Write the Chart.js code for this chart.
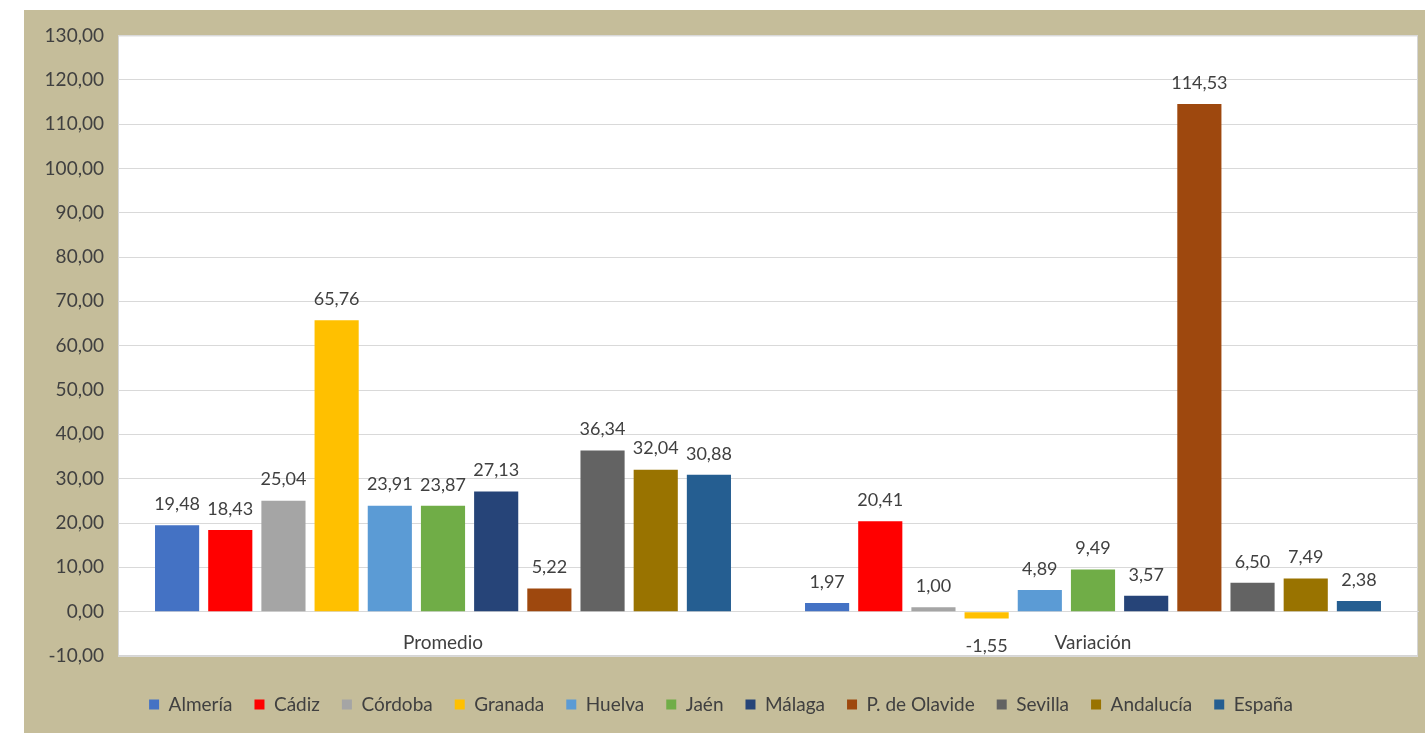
<!DOCTYPE html>
<html>
<head>
<meta charset="utf-8">
<script src="https://cdn.jsdelivr.net/npm/chart.js@4/dist/chart.umd.min.js"></script>
<style>
  html, body { margin: 0; padding: 0; background: #fff; }
  #wrap { position: absolute; left: 24px; top: 10px; width: 1401px; height: 723px; background: #C5BD9A; }
</style>
</head>
<body>
<div id="wrap"><canvas id="chart"></canvas></div>
<script>
const categories = ["Promedio", "Variación"];
const seriesNames = ["Almería", "Cádiz", "Córdoba", "Granada", "Huelva", "Jaén", "Málaga", "P. de Olavide", "Sevilla", "Andalucía", "España"];
const promedio = [19.48, 18.43, 25.04, 65.76, 23.91, 23.87, 27.13, 5.22, 36.34, 32.04, 30.88];
const variacion = [1.97, 20.41, 1.00, -1.55, 4.89, 9.49, 3.57, 114.53, 6.50, 7.49, 2.38];
const colors = ["#4472C4", "#FF0000", "#A5A5A5", "#FFC000", "#5B9BD5", "#70AD47", "#264478", "#9E480E", "#636363", "#997300", "#255E91"];

const fmt = (v) => v.toFixed(2).replace(".", ",");
const FONT = "Lato, 'Open Sans', sans-serif";

// white plot area with thin border
const plotBg = {
  id: "plotBg",
  beforeDraw(chart) {
    const { ctx, chartArea: a } = chart;
    ctx.save();
    ctx.fillStyle = "#fff";
    ctx.fillRect(a.left, a.top, a.right - a.left, a.bottom - a.top);
    ctx.strokeStyle = "#D5D5D5";
    ctx.lineWidth = 1;
    ctx.strokeRect(a.left + 0.5, a.top + 0.5, a.right - a.left - 1, a.bottom - a.top - 1);
    ctx.restore();
  },
};

// value labels above (or below) each bar
const barLabels = {
  id: "barLabels",
  afterDatasetsDraw(chart) {
    const { ctx } = chart;
    ctx.save();
    ctx.font = "18px " + FONT;
    ctx.fillStyle = "#404040";
    ctx.textAlign = "center";
    chart.data.datasets.forEach((ds, i) => {
      chart.getDatasetMeta(i).data.forEach((bar, j) => {
        const v = ds.data[j];
        if (v >= 0) {
          ctx.textBaseline = "middle";
          ctx.fillText(fmt(v), bar.x, bar.y - 21);
        } else {
          ctx.textBaseline = "middle";
          ctx.fillText(fmt(v), bar.x, bar.y + 28);
        }
      });
    });
    ctx.restore();
  },
};

new Chart(document.getElementById("chart"), {
  type: "bar",
  data: {
    labels: categories,
    datasets: seriesNames.map((name, i) => ({
      label: name,
      data: [promedio[i], variacion[i]],
      backgroundColor: colors[i],
      categoryPercentage: 0.9,
      barPercentage: 0.83,
    })),
  },
  options: {
    responsive: true,
    maintainAspectRatio: false,
    animation: false,
    layout: { padding: { top: 18, right: 7, left: 0, bottom: 9 } },
    plugins: {
      tooltip: { enabled: false },
      legend: {
        position: "bottom",
        title: { display: true, text: "", font: { size: 10 }, padding: { top: 0, bottom: 5 } },
        labels: {
          boxWidth: 10,
          boxHeight: 10,
          padding: 22,
          color: "#404040",
          font: { family: FONT, size: 19 },
        },
      },
    },
    scales: {
      x: {
        position: { y: 0 },
        grid: { display: false },
        border: { color: "#D9D9D9" },
        ticks: { color: "#404040", font: { family: FONT, size: 19 }, padding: 12 },
      },
      y: {
        min: -10,
        max: 130,
        afterFit(scale) { scale.width = 94; },
        ticks: {
          stepSize: 10,
          color: "#404040",
          font: { family: FONT, size: 19 },
          padding: 14,
          callback: (v) => fmt(v),
        },
        grid: { color: "#D9D9D9", drawTicks: false },
        border: { display: false },
      },
    },
  },
  plugins: [plotBg, barLabels],
});
</script>
</body>
</html>
